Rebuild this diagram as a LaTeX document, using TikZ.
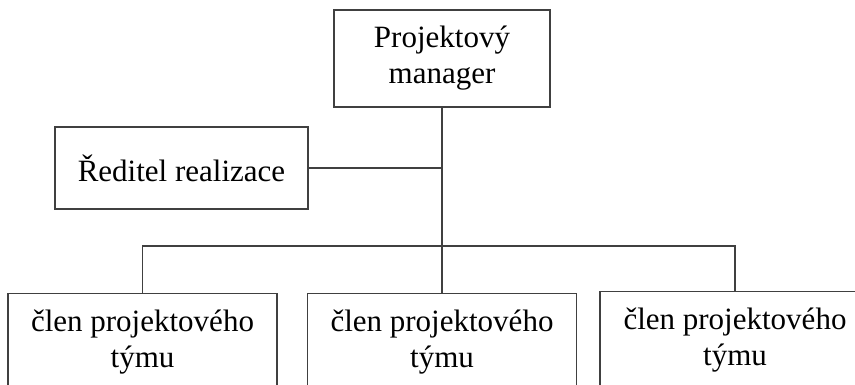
\documentclass[tikz,border=0pt]{standalone}
\usepackage{fontspec}
\setmainfont{Liberation Serif}
\definecolor{linegrey}{HTML}{404040}
\begin{document}
\begin{tikzpicture}[x=1pt,y=-1pt,
  box/.style={draw=linegrey, line width=1.3pt, align=center,
    font=\fontsize{31}{36}\selectfont, inner sep=0pt},
  link/.style={draw=linegrey, line width=1.3pt}]
\useasboundingbox (0,0) rectangle (855,385);
\clip (0,0) rectangle (855,385);

% management
\node[box, minimum width=216pt, minimum height=97pt] (pm) at (442,58.5) {Projektový\\manager};
\node[box, minimum width=253pt, minimum height=82pt] (rr) at (181.5,168) {Ředitel realizace};

% team members
\node[box, minimum width=269pt, minimum height=97pt, anchor=north] (m1) at (142.5,293) {člen projektového\\týmu};
\node[box, minimum width=269pt, minimum height=97pt, anchor=north] (m2) at (442,293) {člen projektového\\týmu};
\node[box, minimum width=270pt, minimum height=97pt, anchor=north] (m3) at (735,291) {člen projektového\\týmu};

% connectors
\coordinate (bus) at (442,246);
\draw[link] (pm.south) -- (m2.north);
\draw[link] (rr.east) -- (rr.east -| pm.south);
\draw[link] (m1.north) |- (bus) -| (m3.north);
\end{tikzpicture}
\end{document}
